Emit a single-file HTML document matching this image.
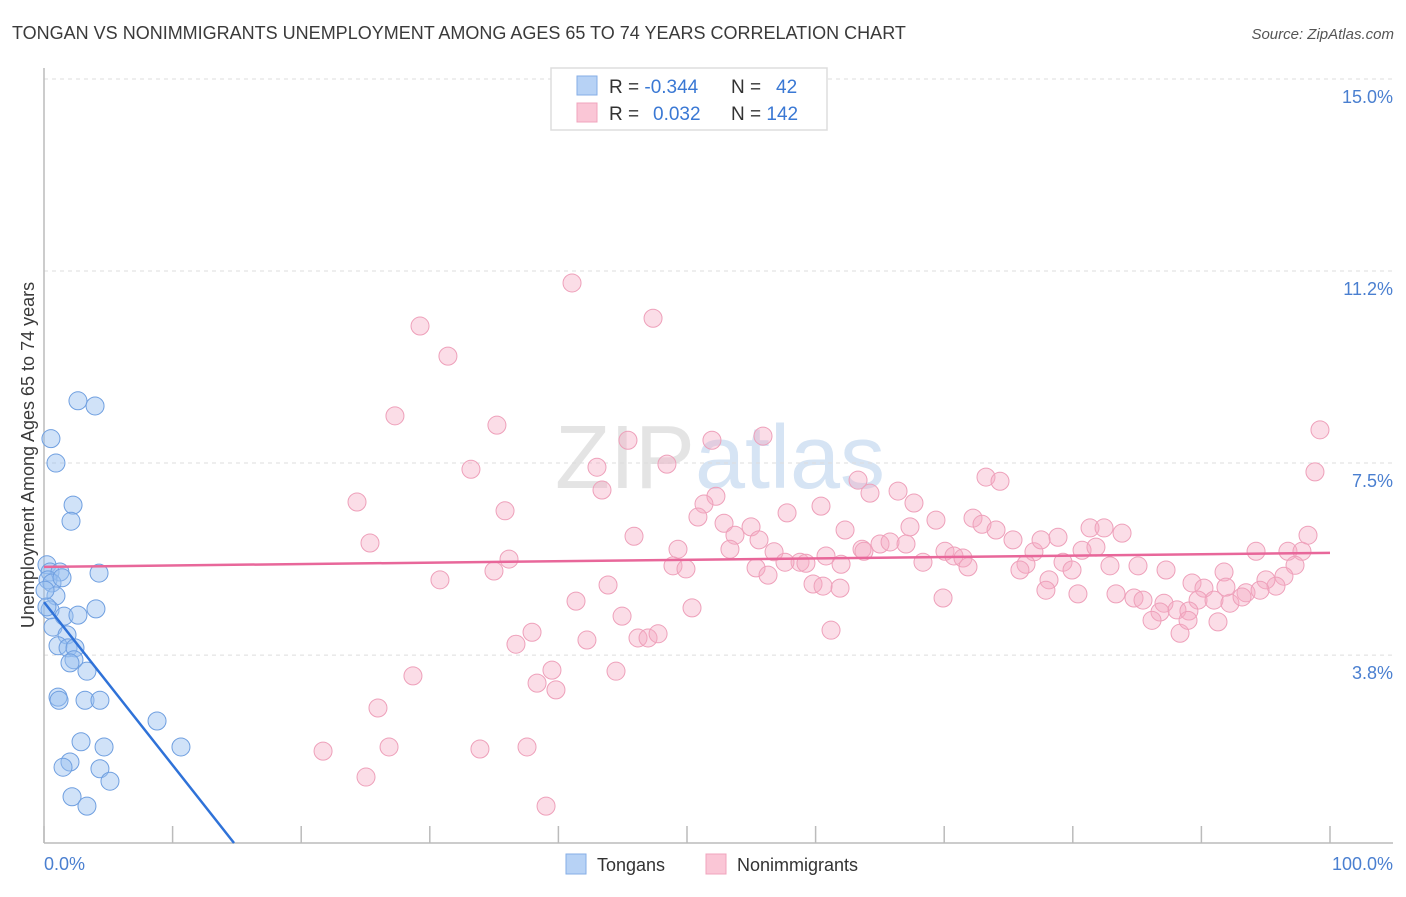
<!DOCTYPE html>
<html><head><meta charset="utf-8"><style>
body{margin:0;background:#fff;font-family:"Liberation Sans",sans-serif}
svg text{font-family:"Liberation Sans",sans-serif}
</style></head><body>
<svg id="chart" width="1406" height="892" viewBox="0 0 1406 892" xmlns="http://www.w3.org/2000/svg">
<text x="12" y="39" font-size="18" fill="#3a3a3a">TONGAN VS NONIMMIGRANTS UNEMPLOYMENT AMONG AGES 65 TO 74 YEARS CORRELATION CHART</text>
<text x="1394" y="39" font-size="15" fill="#555" font-style="italic" text-anchor="end">Source: ZipAtlas.com</text>
<text x="720" y="488" font-size="90" fill="#e4e4e4" text-anchor="middle" font-family="Liberation Serif">ZIP<tspan fill="#d6e4f4" font-family="Liberation Sans">atlas</tspan></text>
<g id="grid"></g>
<line x1="44" y1="68" x2="44" y2="843" stroke="#bbb" stroke-width="1.5"/>
<line x1="44" y1="843" x2="1393" y2="843" stroke="#bbb" stroke-width="1.5"/>
<g id="xticks"></g>
<g id="ylabels"></g>
<text x="44" y="870" font-size="18" fill="#4a7fd0">0.0%</text>
<text x="1393" y="870" font-size="18" fill="#4a7fd0" text-anchor="end">100.0%</text>
<text transform="translate(34,455) rotate(-90)" font-size="18" fill="#3a3a3a" text-anchor="middle">Unemployment Among Ages 65 to 74 years</text>
<g id="pinkPts"></g>
<g id="bluePts"></g>
<g id="trends"></g>
<g>
<rect x="551" y="68" width="276" height="62" fill="#fff" stroke="#ddd" stroke-width="1.5"/>
<rect x="577" y="76" width="20" height="19" fill="#b7d2f5" stroke="#86aee6"/>
<rect x="577" y="103" width="20" height="19" fill="#fac6d6" stroke="#f0a4bd"/>
<text x="609" y="93" font-size="19" fill="#333">R = <tspan fill="#3a78d4">-0.344</tspan></text>
<text x="731" y="93" font-size="19" fill="#333">N = <tspan x="776" fill="#3a78d4">42</tspan></text>
<text x="609" y="120" font-size="19" fill="#333">R = <tspan x="653" fill="#3a78d4">0.032</tspan></text>
<text x="731" y="120" font-size="19" fill="#333">N = <tspan fill="#3a78d4">142</tspan></text>
</g>
<g>
<rect x="566" y="854" width="20" height="20" fill="#b7d2f5" stroke="#86aee6"/>
<text x="597" y="871" font-size="18" fill="#333">Tongans</text>
<rect x="706" y="854" width="20" height="20" fill="#fac6d6" stroke="#f0a4bd"/>
<text x="737" y="871" font-size="18" fill="#333">Nonimmigrants</text>
</g>
</svg>
<script>
const yTickValues=[3.9,7.6,11.3,15];
const yTickLabels=["3.8%","7.5%","11.2%","15.0%"];
const xTickValues=[0,10,20,30,40,50,60,70,80,90,100];
const blueX=[2.64,3.97,0.54,0.93,2.26,2.10,0.23,0.47,1.24,4.28,0.31,0.62,0.93,0.47,0.23,1.56,2.64,4.04,0.70,1.79,1.09,1.87,2.41,2.33,2.02,3.34,1.09,1.17,3.19,4.35,8.79,2.88,4.67,10.65,2.02,1.48,4.35,5.13,2.18,3.34,1.40,0.08];
const blueY=[8.80,8.70,8.07,7.60,6.79,6.48,5.64,5.50,5.50,5.48,5.35,5.29,5.04,4.77,4.83,4.65,4.67,4.79,4.44,4.29,4.08,4.04,4.04,3.81,3.75,3.59,3.09,3.03,3.03,3.03,2.63,2.23,2.13,2.13,1.84,1.74,1.71,1.47,1.17,0.99,5.39,5.15];
const pinkX=[41.06,47.36,29.24,31.41,27.29,35.22,55.91,45.41,51.94,33.20,43.00,48.44,99.22,98.83,24.34,35.85,43.39,52.25,51.32,50.85,52.88,54.98,53.73,57.78,60.42,63.30,64.23,66.41,73.25,74.34,25.35,36.16,34.99,30.79,45.88,49.30,48.91,49.92,53.34,55.60,56.77,58.79,59.25,60.81,62.29,63.61,63.76,65.01,65.79,67.03,67.34,69.36,67.65,70.06,70.76,71.46,71.85,68.35,69.91,72.24,72.94,74.03,75.35,76.98,76.36,75.89,78.85,77.53,79.24,79.94,80.72,81.34,82.43,83.83,81.80,78.15,77.91,80.40,82.89,85.07,87.25,83.36,84.76,87.09,89.27,90.20,89.74,90.98,92.22,93.47,94.25,96.73,97.82,98.29,97.28,96.42,95.80,95.02,94.56,91.76,93.16,91.91,88.10,89.03,86.78,86.16,88.34,88.96,91.29,85.46,57.62,55.37,56.30,59.80,61.90,60.58,61.98,50.39,43.86,41.37,44.95,37.95,42.22,46.19,46.97,47.75,36.70,39.50,38.34,39.81,44.48,28.69,25.97,21.70,26.83,33.90,37.56,25.04,39.04,61.20];
const pinkY=[11.07,10.39,10.24,9.66,8.51,8.33,8.12,8.04,8.04,7.48,7.52,7.58,8.24,7.43,6.85,6.68,7.08,6.96,6.81,6.56,6.44,6.37,6.21,6.64,6.77,7.27,7.02,7.06,7.33,7.25,6.06,5.75,5.52,5.35,6.19,5.94,5.62,5.56,5.94,6.12,5.89,5.69,5.67,5.81,6.31,5.94,5.90,6.04,6.08,6.04,6.37,6.50,6.83,5.90,5.81,5.77,5.60,5.69,5.00,6.54,6.42,6.31,6.12,5.89,5.65,5.54,6.17,6.12,5.69,5.54,5.92,6.35,6.35,6.25,5.98,5.35,5.15,5.08,5.62,5.62,5.54,5.08,5.00,4.90,5.29,5.19,4.96,4.96,4.90,5.10,5.90,5.90,5.90,6.21,5.63,5.42,5.23,5.35,5.15,5.50,5.02,5.21,4.77,4.75,4.73,4.57,4.32,4.57,4.54,4.96,5.69,5.58,5.44,5.27,5.19,5.23,5.65,4.81,5.25,4.94,4.65,4.34,4.19,4.23,4.23,4.31,4.11,3.61,3.36,3.23,3.59,3.50,2.88,2.05,2.13,2.09,2.13,1.55,0.99,4.38];
const blueTrend=[4.92,-0.314];
const pinkTrend=[5.60,0.0027];
const Y_MIN=0.28, Y_MAX=15;
const NS="http://www.w3.org/2000/svg";
function sx(v){return 44+v*12.86;}
function sy(v){return 79+(Y_MAX-v)*51.9;}
function mk(tag,attrs,parent){const e=document.createElementNS(NS,tag);for(const k in attrs)e.setAttribute(k,attrs[k]);parent.appendChild(e);return e;}
const grid=document.getElementById('grid'),yl=document.getElementById('ylabels'),xt=document.getElementById('xticks');
yTickValues.forEach((v,i)=>{
 const g=mk('line',{x1:44,x2:1393,y1:sy(v),y2:sy(v),stroke:'#ddd','stroke-dasharray':'4 4'},grid);
 
 
 const t=mk('text',{x:1393,y:sy(v)+24,'font-size':18,fill:'#4a7fd0','text-anchor':'end'},yl);
 t.textContent=yTickLabels[i];
 
 
});
xTickValues.forEach(v=>{
 const l=mk('line',{x1:sx(v),x2:sx(v),y1:826,y2:843,stroke:'#bbb','stroke-width':1.5},xt);
 
 
});
const pg=document.getElementById('pinkPts');
pinkX.forEach((x,i)=>{
 const c=mk('circle',{cx:sx(x),cy:sy(pinkY[i]),r:9,fill:'rgba(245,170,195,0.4)',stroke:'#eea0ba','stroke-width':1},pg);
 
 
});
const bg=document.getElementById('bluePts');
blueX.forEach((x,i)=>{
 const c=mk('circle',{cx:sx(x),cy:sy(blueY[i]),r:9,fill:'rgba(150,190,240,0.45)',stroke:'#6f9fe0','stroke-width':1},bg);
 
 
});
const tr=document.getElementById('trends');
const pl=mk('line',{x1:sx(0),y1:sy(pinkTrend[0]),x2:sx(100),y2:sy(pinkTrend[0]+pinkTrend[1]*100),stroke:'#e8679a','stroke-width':2.5},tr);


const xEnd=(Y_MIN-blueTrend[0])/blueTrend[1];
const bl=mk('line',{x1:sx(0),y1:sy(blueTrend[0]),x2:sx(xEnd),y2:sy(Y_MIN),stroke:'#2f72d8','stroke-width':2.5},tr);


</script>
</body></html>
